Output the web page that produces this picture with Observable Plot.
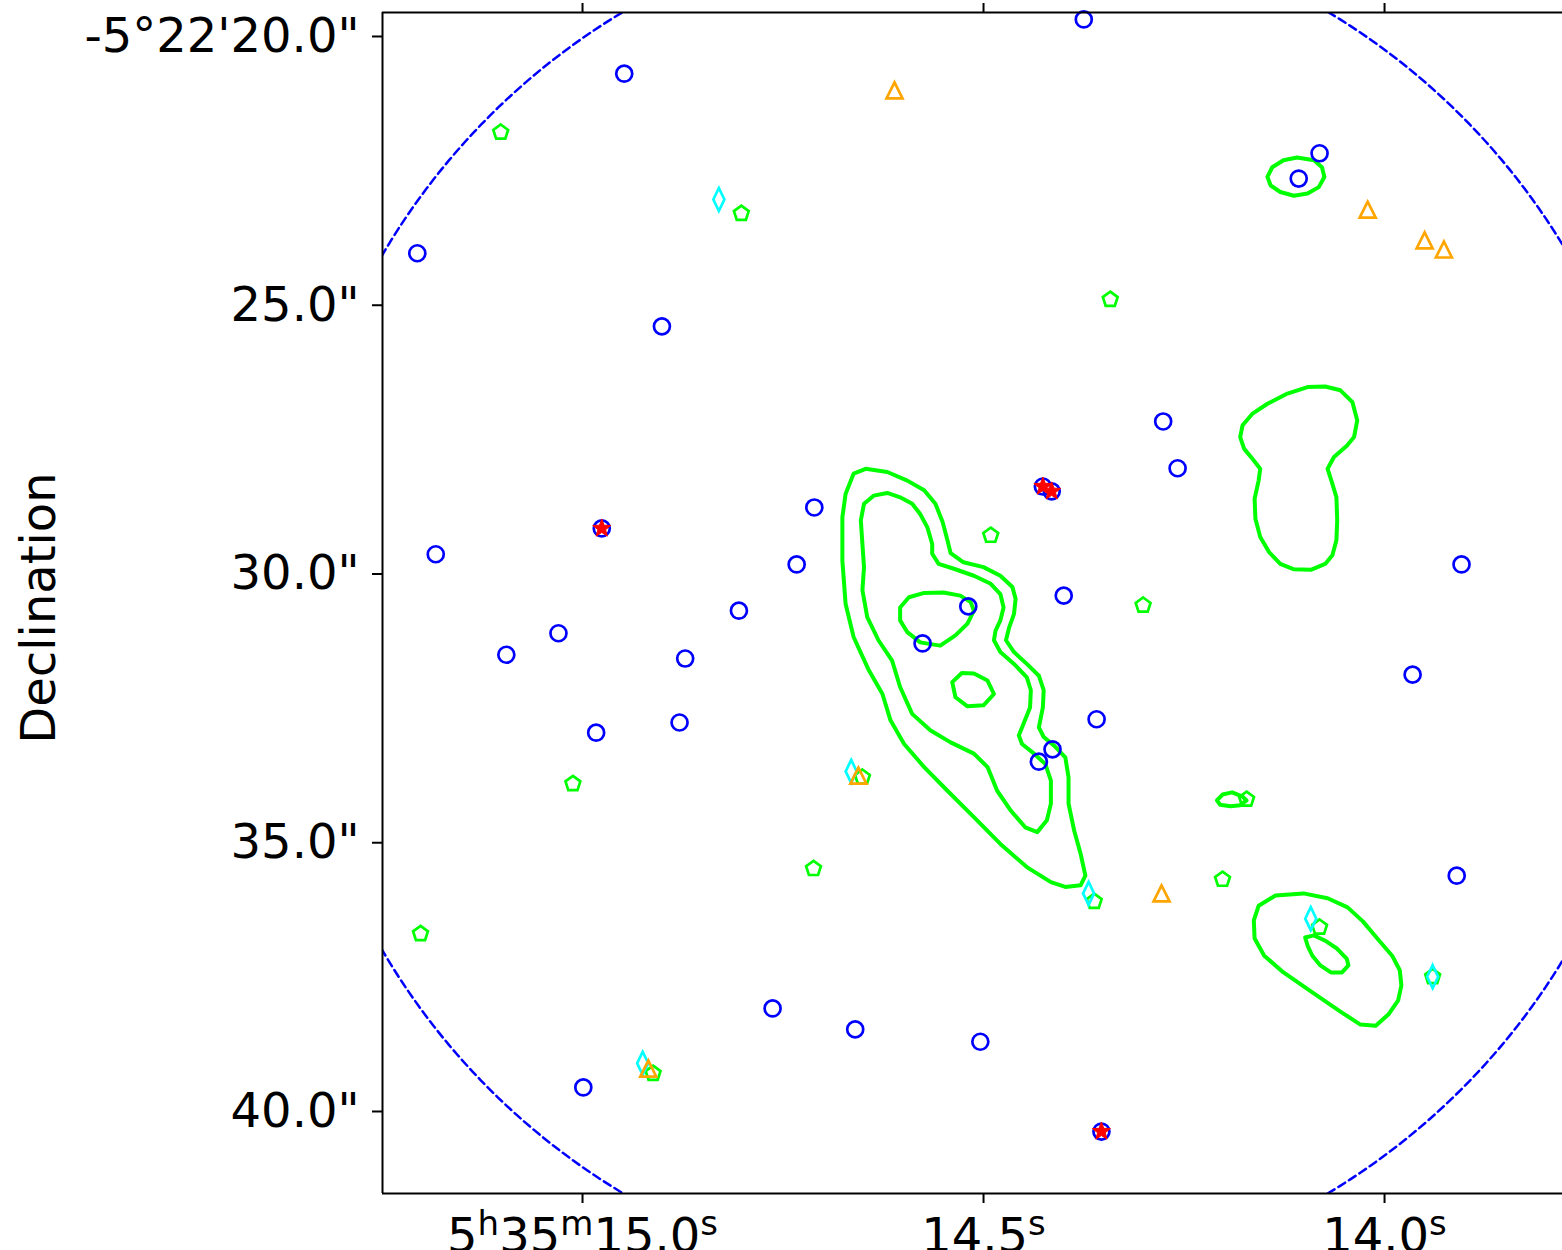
<!DOCTYPE html>
<html><head><meta charset="utf-8">
<script src="https://cdn.jsdelivr.net/npm/d3@7"></script>
<script src="https://cdn.jsdelivr.net/npm/@observablehq/plot@0.6"></script>
<style>html,body{margin:0;padding:0;background:#fff;}</style>
</head><body><div id="chart"></div>
<script>
// ---- axes / labels ----
const xTicks = [15.0, 14.5, 14.0];                       // RA seconds (5h35m..s)
const xTickLabels = ["5h35m15.0s", "14.5s", "14.0s"];
const yTicks = [20, 25, 30, 35, 40];                     // Dec arcsec (-5°22'..")
const yTickLabels = ["-5°22'20.0\"", "25.0\"", "30.0\"", "35.0\"", "40.0\""];
const yLabel = "Declination";
const raDomain = [15.2494, 13.7781];
const decDomain = [19.591, 41.563];

// ---- field of view circle ----
const fovCenter = [14.510, 30.57];   // [RA s, Dec arcsec]
const fovRadius = 12.8;              // arcsec
const fovDec = -5.375;               // degrees

// ---- source catalogues [RA s, Dec arcsec] ----
const blueCircles = [
  [14.375,19.72],[14.948,20.73],[14.081,22.21],[14.107,22.68],[15.206,24.07],[14.901,25.43],
  [14.276,27.20],[14.258,28.07],[14.711,28.80],[15.183,29.67],[14.733,29.86],[13.904,29.86],
  [14.400,30.44],[14.805,30.72],[14.519,30.64],[15.030,31.14],[14.576,31.33],[15.095,31.54],
  [14.872,31.61],[13.965,31.91],[14.359,32.74],[14.879,32.80],[14.983,32.99],[14.414,33.30],
  [14.431,33.53],[13.910,35.65],[14.763,38.12],[14.660,38.51],[14.504,38.74],[14.999,39.59],
  [14.976,29.19],[14.426,28.41],[14.415,28.50],[14.353,40.41]
];
const redStars = [[14.976,29.19],[14.426,28.41],[14.415,28.50],[14.353,40.41]];
const greenPentagons = [
  [15.102,21.82],[14.802,23.33],[14.342,24.93],[14.491,29.32],[14.301,30.62],[15.012,33.94],
  [14.651,33.82],[14.172,34.23],[14.712,35.52],[14.202,35.72],[14.362,36.13],[15.202,36.73],
  [14.081,36.61],[14.912,39.33],[13.940,37.53]
];
const orangeTriangles = [
  [14.611,21.04],[14.021,23.26],[13.950,23.83],[13.926,24.00],[14.656,33.79],[14.278,35.98],[14.918,39.24]
];
const cyanDiamonds = [
  [14.830,23.07],[14.665,33.71],[14.369,35.98],[14.092,36.45],[13.940,37.53],[14.925,39.14]
];

// ---- contours [RA s, Dec arcsec] ----
const contourOuter = [
  [14.662,28.17],[14.647,28.08],[14.620,28.14],[14.595,28.30],[14.574,28.48],[14.560,28.73],
  [14.551,29.07],[14.545,29.41],[14.541,29.65],[14.525,29.82],[14.500,29.91],[14.479,30.07],
  [14.464,30.28],[14.460,30.50],[14.462,30.78],[14.468,31.03],[14.472,31.27],[14.462,31.49],
  [14.446,31.71],[14.431,31.93],[14.425,32.20],[14.426,32.52],[14.431,32.89],[14.425,33.07],
  [14.412,33.23],[14.398,33.45],[14.394,33.82],[14.394,34.31],[14.387,34.81],[14.379,35.24],
  [14.373,35.65],[14.379,35.83],[14.398,35.86],[14.416,35.77],[14.446,35.49],[14.479,35.06],
  [14.512,34.56],[14.545,34.07],[14.574,33.63],[14.599,33.20],[14.616,32.76],[14.626,32.27],
  [14.643,31.83],[14.662,31.21],[14.672,30.59],[14.676,29.79],[14.676,28.98],[14.672,28.55]
];
const contourMiddle = [
  [14.649,28.73],[14.637,28.58],[14.620,28.53],[14.604,28.61],[14.589,28.73],[14.579,28.92],
  [14.570,29.17],[14.564,29.48],[14.564,29.66],[14.556,29.85],[14.537,29.94],[14.512,30.07],
  [14.491,30.22],[14.479,30.41],[14.475,30.66],[14.479,30.90],[14.485,31.09],[14.487,31.27],
  [14.479,31.49],[14.462,31.71],[14.446,31.96],[14.441,32.20],[14.442,32.52],[14.450,32.82],
  [14.456,33.04],[14.452,33.20],[14.437,33.38],[14.423,33.57],[14.416,33.88],[14.416,34.31],
  [14.421,34.62],[14.433,34.84],[14.448,34.75],[14.466,34.44],[14.483,34.07],[14.495,33.63],
  [14.512,33.38],[14.541,33.17],[14.566,32.95],[14.589,32.64],[14.604,32.14],[14.614,31.65],
  [14.631,31.27],[14.645,30.84],[14.651,30.34],[14.649,29.91],[14.651,29.48],[14.653,29.04]
];
const contourInnerA = [
  [14.604,30.66],[14.593,30.47],[14.574,30.39],[14.550,30.38],[14.529,30.44],[14.516,30.56],
  [14.512,30.72],[14.520,30.96],[14.535,31.18],[14.554,31.37],[14.579,31.31],[14.595,31.12],[14.604,30.90]
];
const contourInnerB = [
  [14.539,32.05],[14.527,31.88],[14.512,31.89],[14.495,32.02],[14.487,32.27],[14.500,32.48],
  [14.520,32.50],[14.535,32.33]
];
const contourEast = [
  [14.177,27.27],[14.165,27.06],[14.146,26.87],[14.121,26.68],[14.096,26.56],[14.074,26.55],
  [14.055,26.62],[14.040,26.84],[14.034,27.18],[14.038,27.49],[14.047,27.65],[14.063,27.86],
  [14.071,28.08],[14.065,28.36],[14.060,28.61],[14.059,29.04],[14.060,29.41],[14.065,29.69],
  [14.074,29.85],[14.092,29.96],[14.113,29.95],[14.130,29.85],[14.144,29.63],[14.155,29.35],
  [14.161,29.01],[14.162,28.64],[14.157,28.30],[14.155,28.08],[14.165,27.89],[14.175,27.71],[14.180,27.49]
];
const contourNorth = [
  [14.146,22.65],[14.140,22.47],[14.126,22.34],[14.109,22.29],[14.088,22.34],[14.078,22.47],
  [14.075,22.65],[14.082,22.84],[14.096,22.96],[14.113,23.00],[14.130,22.93],[14.142,22.81]
];
const contourSouthOuter = [
  [14.163,36.48],[14.157,36.21],[14.136,36.02],[14.101,35.98],[14.071,36.07],[14.046,36.24],
  [14.027,36.50],[14.009,36.82],[13.990,37.15],[13.981,37.41],[13.979,37.69],[13.983,37.97],
  [13.995,38.23],[14.011,38.44],[14.030,38.42],[14.055,38.18],[14.090,37.82],[14.126,37.45],
  [14.150,37.14],[14.162,36.82]
];
const contourSouthInner = [
  [14.099,36.80],[14.088,36.76],[14.074,36.86],[14.059,37.01],[14.047,37.20],[14.045,37.32],
  [14.053,37.45],[14.067,37.45],[14.080,37.32],[14.090,37.14],[14.096,36.95]
];
const contourSmall = [
  [14.209,34.25],[14.202,34.14],[14.190,34.10],[14.177,34.18],[14.172,34.25],[14.180,34.34],
  [14.192,34.36],[14.205,34.33]
];

const contours = [contourOuter, contourMiddle, contourInnerA, contourInnerB, contourEast,
  contourNorth, contourSouthOuter, contourSouthInner, contourSmall]
  .flatMap((c, i) => c.map(([ra, dec]) => ({ra, dec, id: i})));

const raRadius = fovRadius / (15 * Math.cos(fovDec * Math.PI / 180));
const fovCircle = d3.range(0, 361, 1).map(a => ({
  ra: fovCenter[0] + raRadius * Math.cos(a * Math.PI / 180),
  dec: fovCenter[1] + fovRadius * Math.sin(a * Math.PI / 180)
}));

// ---- marker shapes ----
const pentagonSym = {draw(ctx, size) {
  const R = Math.sqrt(size / Math.PI);
  for (let i = 0; i < 5; i++) {
    const a = -Math.PI / 2 + i * 2 * Math.PI / 5;
    const x = R * Math.cos(a), y = R * Math.sin(a);
    i ? ctx.lineTo(x, y) : ctx.moveTo(x, y);
  }
  ctx.closePath();
}};
const triangleSym = {draw(ctx, size) {
  const R = Math.sqrt(size / Math.PI);
  ctx.moveTo(0, -R); ctx.lineTo(-R, R); ctx.lineTo(R, R); ctx.closePath();
}};
const thinDiamondSym = {draw(ctx, size) {
  const R = Math.sqrt(size / Math.PI);
  ctx.moveTo(0, -R); ctx.lineTo(0.48 * R, 0); ctx.lineTo(0, R); ctx.lineTo(-0.48 * R, 0); ctx.closePath();
}};
const starSym = {draw(ctx, size) {
  const R = Math.sqrt(size / Math.PI), r = R * 0.42;
  for (let i = 0; i < 10; i++) {
    const a = -Math.PI / 2 + i * Math.PI / 5, rr = i % 2 ? r : R;
    const x = rr * Math.cos(a), y = rr * Math.sin(a);
    i ? ctx.lineTo(x, y) : ctx.moveTo(x, y);
  }
  ctx.closePath();
}};

const X = d => d[0], Y = d => d[1];
const xFmt = d => xTickLabels[xTicks.indexOf(d)];
const yFmt = d => yTickLabels[yTicks.indexOf(d)];

const plot = Plot.plot({
  width: 1562, height: 1250,
  marginLeft: 382, marginRight: 0, marginTop: 12, marginBottom: 57,
  style: {fontFamily: "DejaVu Sans", fontSize: "48px", background: "white", color: "black"},
  x: {domain: raDomain, label: null},
  y: {domain: decDomain, reverse: true, label: null},
  marks: [
    Plot.line(fovCircle, {x: "ra", y: "dec", stroke: "#0000ff", strokeWidth: 2.5, strokeDasharray: "8,4.5", clip: true}),
    Plot.line(contours, {x: "ra", y: "dec", z: "id", stroke: "#00ff00", strokeWidth: 4, curve: "linear-closed"}),
    Plot.dot(blueCircles, {x: X, y: Y, r: 8, stroke: "#0000ff", strokeWidth: 2.7, fill: "none"}),
    Plot.dot(greenPentagons, {x: X, y: Y, r: 7.8, symbol: pentagonSym, stroke: "#00ff00", strokeWidth: 2.7, fill: "none"}),
    Plot.dot(cyanDiamonds, {x: X, y: Y, r: 11.5, symbol: thinDiamondSym, stroke: "#00ffff", strokeWidth: 2.7, fill: "none"}),
    Plot.dot(orangeTriangles, {x: X, y: Y, r: 8, symbol: triangleSym, stroke: "#ffa500", strokeWidth: 2.7, fill: "none"}),
    Plot.dot(redStars, {x: X, y: Y, r: 9.5, symbol: starSym, fill: "#ff0000", stroke: "#ff0000", strokeWidth: 1}),
    Plot.ruleX([raDomain[0]], {stroke: "black", strokeWidth: 2}),
    Plot.ruleY([decDomain[0]], {stroke: "black", strokeWidth: 2}),
    Plot.ruleY([decDomain[1]], {stroke: "black", strokeWidth: 2}),
    Plot.axisX({anchor: "bottom", ticks: xTicks, tickFormat: xFmt, tickSize: 10, tickPadding: 14, strokeWidth: 2, fontSize: 48, label: null}),
    Plot.axisX({anchor: "top", ticks: xTicks, tickFormat: () => "", tickSize: 10, strokeWidth: 2, label: null}),
    Plot.axisY({anchor: "left", ticks: yTicks, tickFormat: yFmt, tickSize: 10, tickPadding: 13, strokeWidth: 2, fontSize: 48, dy: 2, label: null})
  ]
});

// superscript h / m / s in the RA tick labels
d3.select(plot).selectAll("text").each(function() {
  const t = this.textContent;
  if (!/^(\d+h)?(\d+m)?\d+\.\d+s$/.test(t)) return;
  const sel = d3.select(this);
  sel.text(null);
  const re = /([\d.]+)([hms])/g;
  let m, raised = false;
  while ((m = re.exec(t))) {
    const n = sel.append("tspan").text(m[1]);
    if (raised) n.attr("dy", 17);
    sel.append("tspan").attr("dy", -17).attr("font-size", 34).text(m[2]);
    raised = true;
  }
});

// y-axis title
d3.select(plot).append("text")
  .attr("transform", "translate(55,608) rotate(-90)")
  .attr("text-anchor", "middle")
  .attr("font-family", "DejaVu Sans")
  .attr("font-size", 48)
  .attr("fill", "black")
  .text(yLabel);

document.getElementById("chart").appendChild(plot);
</script>
</body></html>
